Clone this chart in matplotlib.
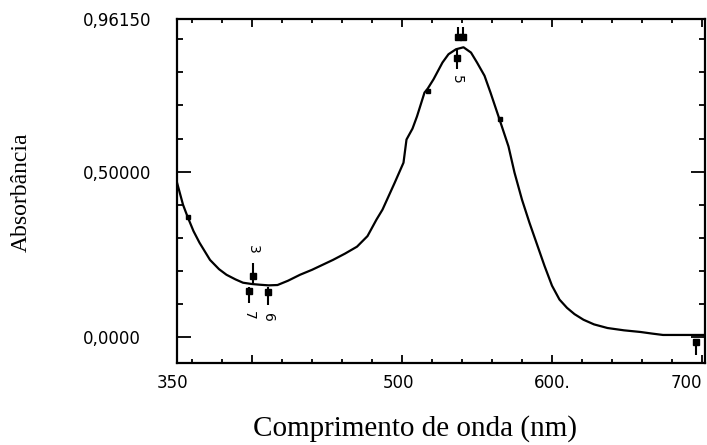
import matplotlib
matplotlib.use('Agg')
import matplotlib.pyplot as plt
from matplotlib.transforms import ScaledTranslation

# spectrum (nm, absorbance)
wavelength = [350, 354, 357, 361, 365, 372, 378, 383, 389, 394, 400, 405, 411, 417,
              424, 432, 440, 447, 454, 462, 470, 477, 483, 487, 490, 495, 501, 503,
              507, 510, 515, 517, 521, 527, 531, 536, 541, 546, 550, 555, 559, 565,
              571, 575, 580, 585, 590, 595, 600, 605, 610, 615, 621, 628,
              637, 648, 659, 667, 674, 690, 702]
absorbance = [0.467, 0.400, 0.364, 0.320, 0.285, 0.233, 0.205, 0.188, 0.174, 0.164,
              0.160, 0.158, 0.156, 0.157, 0.170, 0.188, 0.203, 0.218, 0.233, 0.252,
              0.273, 0.305, 0.355, 0.385, 0.415, 0.465, 0.527, 0.597, 0.630, 0.667,
              0.739, 0.750, 0.779, 0.830, 0.855, 0.870, 0.876, 0.860, 0.830, 0.790,
              0.739, 0.658, 0.576, 0.497, 0.415, 0.345, 0.280, 0.215, 0.155, 0.113,
              0.088, 0.069, 0.052, 0.038, 0.027, 0.020, 0.015, 0.010,
              0.006, 0.006, 0.006]

# small squares sitting on the curve
dot_x = [357, 517, 565]
dot_y = [0.364, 0.745, 0.658]

# numbered peak markers
marker_x = [400.7, 398.0, 410.7, 536.7, 696.0]
marker_top = [0.224, 0.152, 0.152, 0.870, -0.009]
marker_bottom = [0.164, 0.103, 0.097, 0.809, -0.055]
marker_sq = [0.185, 0.139, 0.135, 0.845, -0.015]
marker_labels = ['3', '7', '6', '5', '']
marker_label_y = [0.264, 0.064, 0.060, 0.779, 0.0]

pair_x = [537.3, 540.7]
pair_top = 0.936
pair_bottom = 0.900
pair_sq = 0.906

xticks = [350, 400, 500, 600, 700]
xtick_labels = ['350', '', '500', '600.', '700']
xminor = [360, 380, 420, 440, 460, 480, 520, 540, 560, 580, 620, 640, 660, 680]
yticks = [0.0, 0.5, 0.9615]
ytick_labels = ['0,0000', '0,50000', '0,96150']
yminor = [0.1, 0.2, 0.3, 0.4, 0.6, 0.7, 0.8, 0.9]

fig = plt.figure(figsize=(7.07, 4.45), dpi=100)
ax = fig.add_axes([177 / 707, 1 - 363 / 445, 528 / 707, 344 / 445])

ax.plot(wavelength, absorbance, color='black', lw=1.6)
ax.plot(dot_x, dot_y, 's', color='black', ms=3)

ax.vlines(marker_x, marker_bottom, marker_top, color='black', lw=1.5)
ax.plot(marker_x, marker_sq, 's', color='black', ms=4)
for x, y, t in zip(marker_x, marker_label_y, marker_labels):
    if t:
        ax.text(x, y, t, rotation=270, ha='center', va='center', fontsize=10)

ax.vlines(pair_x, pair_bottom, pair_top, color='black', lw=1.5)
ax.plot(pair_x, [pair_sq, pair_sq], 's', color='black', ms=4)

ax.set_xlim(350, 702)
ax.set_ylim(-0.0788, 0.9615)

ax.set_xticks(xticks)
ax.set_xticklabels(xtick_labels)
ax.set_xticks(xminor, minor=True)
ax.set_yticks(yticks)
ax.set_yticklabels(ytick_labels)
ax.set_yticks(yminor, minor=True)

ax.tick_params(which='both', direction='in', top=True, right=True, width=1.3,
               labelsize=12)
ax.tick_params(axis='x', which='major', length=6, pad=8)
ax.tick_params(axis='x', which='minor', length=3)
ax.tick_params(axis='y', which='major', length=10, pad=68)
ax.tick_params(axis='y', which='minor', length=4)
for lab in ax.get_yticklabels():
    lab.set_ha('left')
xlabs = ax.get_xticklabels()
xlabs[-1].set_ha('right')
# the old plot puts the first labels a touch left of their ticks
for lab in xlabs[:3]:
    lab.set_transform(lab.get_transform() + ScaledTranslation(-4 / 100, 0, fig.dpi_scale_trans))

for s in ax.spines.values():
    s.set_linewidth(1.6)

fig.text(21 / 707, 1 - 192 / 445, 'Absorbância', rotation=90, ha='center',
         va='center', fontsize=17, family='Liberation Serif')
fig.text(415 / 707, 1 - 429 / 445, 'Comprimento de onda (nm)', ha='center',
         va='center', fontsize=21, family='Liberation Serif')

fig.savefig('out.png', dpi=100)
